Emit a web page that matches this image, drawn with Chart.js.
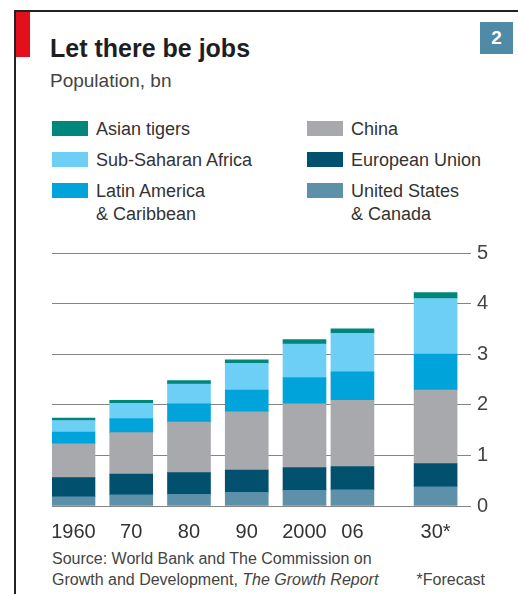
<!DOCTYPE html>
<html>
<head>
<meta charset="utf-8">
<script src="https://cdn.jsdelivr.net/npm/chart.js@4.4.1/dist/chart.umd.min.js"></script>
<style>
  body { margin: 0; background: #fff; font-family: "Liberation Sans", Arial, sans-serif; color: #333; }
  #page { position: relative; width: 518px; height: 594px; overflow: hidden; }
  .abs { position: absolute; white-space: nowrap; }
  .sw { position: absolute; width: 36px; height: 15px; }
</style>
</head>
<body>
<div id="page">
  <div class="abs" style="left:14px;top:10px;width:2px;height:584px;background:#222"></div>
  <div class="abs" style="left:14px;top:10px;width:504px;height:1.5px;background:#222"></div>
  <div class="abs" style="left:16px;top:12px;width:14px;height:45px;background:#e3101c"></div>
  <div class="abs" style="left:480px;top:22px;width:33px;height:32px;background:#4f8aa6;color:#fff;font-weight:bold;font-size:19px;line-height:32px;text-align:center">2</div>
  <div class="abs" id="titulo" style="left:50px;top:36px;font-size:25px;line-height:25px;font-weight:bold;color:#1e1e1e">Let there be jobs</div>
  <div class="abs" style="left:50px;top:71px;font-size:19px;line-height:19px;color:#444">Population, bn</div>
  <div id="leyenda"></div>
  <div class="abs" style="left:0;top:235px;width:518px;height:310px">
    <canvas id="canvas_grafica" width="518" height="310" style="display:block"></canvas>
  </div>
  <div class="abs" style="left:52px;top:548px;font-size:16px;line-height:21px;color:#444">Source: World Bank and The Commission on<br>Growth and Development, <i>The Growth Report</i></div>
  <div class="abs" style="right:33px;top:569px;font-size:16px;line-height:21px;color:#444">*Forecast</div>
</div>
<script>
// datos (mil millones de personas), de abajo hacia arriba en cada barra
const etiquetas = ["1960", "70", "80", "90", "2000", "06", "30*"];
const eeuu_canada = [0.18, 0.22, 0.23, 0.27, 0.31, 0.32, 0.38];
const union_europea = [0.38, 0.41, 0.43, 0.44, 0.45, 0.46, 0.46];
const china = [0.67, 0.82, 1.00, 1.15, 1.26, 1.31, 1.45];
const latinoamerica = [0.23, 0.28, 0.36, 0.43, 0.52, 0.56, 0.71];
const africa_subsahariana = [0.23, 0.30, 0.39, 0.53, 0.66, 0.76, 1.10];
const tigres_asiaticos = [0.05, 0.06, 0.07, 0.07, 0.09, 0.09, 0.12];

// posicion de cada barra en el eje x (hueco antes de 2030)
let huecos = [0, 1, 2, 3, 4, 4.83, 6.27];

let series = [
    { label: "United States\n& Canada", data: eeuu_canada, color: "#5d91aa" },
    { label: "European Union", data: union_europea, color: "#00506e" },
    { label: "China", data: china, color: "#a7a9ac" },
    { label: "Latin America\n& Caribbean", data: latinoamerica, color: "#00a4db" },
    { label: "Sub-Saharan Africa", data: africa_subsahariana, color: "#6dcff6" },
    { label: "Asian tigers", data: tigres_asiaticos, color: "#00877b" }
];

// leyenda en dos columnas, igual que el original
let orden_leyenda = [5, 4, 3, 2, 1, 0];
let leyenda = document.getElementById("leyenda");
orden_leyenda.forEach((idx, i) => {
    let col = Math.floor(i / 3);
    let fila = i % 3;
    let izq = col === 0 ? 52 : 307;
    let arriba = 118 + fila * 31;
    let sw = document.createElement("div");
    sw.className = "sw";
    sw.style.left = izq + "px";
    sw.style.top = (arriba + 3) + "px";
    sw.style.background = series[idx].color;
    leyenda.appendChild(sw);
    let txt = document.createElement("div");
    txt.className = "abs";
    txt.style.left = (izq + 44) + "px";
    txt.style.top = arriba + "px";
    txt.style.fontSize = "18px";
    txt.style.lineHeight = "23px";
    txt.style.color = "#333";
    txt.innerHTML = series[idx].label.replace("\n", "<br>");
    leyenda.appendChild(txt);
});

let canvas_graf = document.getElementById("canvas_grafica");
new Chart(canvas_graf, {
    type: 'bar',
    data: {
        datasets: series.map(s => ({
            label: s.label,
            data: s.data.map((v, i) => ({ x: huecos[i], y: v })),
            backgroundColor: s.color,
            borderWidth: 0,
            barThickness: 43
        }))
    },
    options: {
        responsive: false,
        animation: false,
        layout: { padding: { left: 52, top: 0, right: 0, bottom: 0 } },
        plugins: { legend: { display: false }, tooltip: { enabled: false } },
        scales: {
            x: {
                type: 'linear',
                stacked: true,
                offset: false,
                min: -0.372,
                max: 6.883,
                grid: { display: false },
                border: { display: false },
                afterBuildTicks: scale => { scale.ticks = huecos.map(v => ({ value: v })); },
                afterFit: scale => { scale.height = 39; },
                ticks: {
                    autoSkip: false,
                    maxRotation: 0,
                    padding: 6,
                    color: '#333',
                    font: { family: 'Liberation Sans', size: 20 },
                    callback: (val, i) => etiquetas[i]
                }
            },
            y: {
                position: 'right',
                stacked: true,
                min: 0,
                max: 5,
                grid: { color: '#858585', lineWidth: 1, drawTicks: false },
                border: { display: false },
                afterFit: scale => { scale.width = 47; },
                ticks: {
                    stepSize: 1,
                    padding: 6,
                    color: '#444',
                    font: { family: 'Liberation Sans', size: 20 }
                }
            }
        }
    }
});
</script>
</body>
</html>
